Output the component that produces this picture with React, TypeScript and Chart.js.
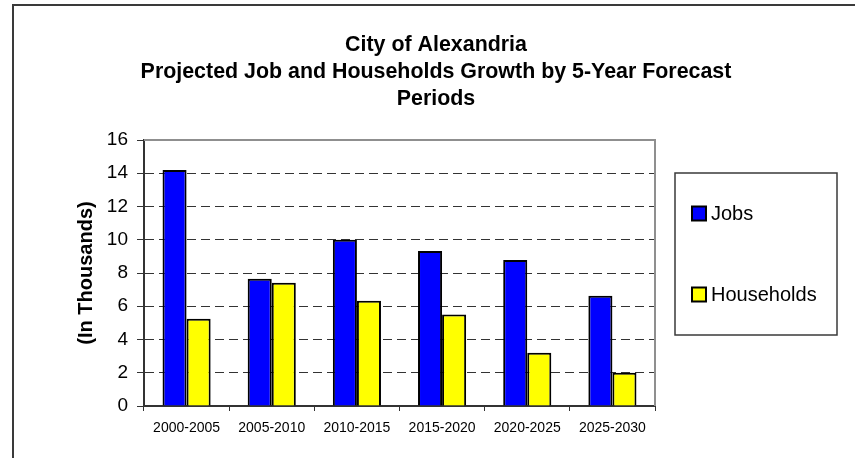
import React, { useEffect, useRef } from "react";
import { Chart, registerables } from "chart.js";

Chart.register(...registerables);

const categories = ["2000-2005", "2005-2010", "2010-2015", "2015-2020", "2020-2025", "2025-2030"];
const jobs = [14.2, 7.65, 10.0, 9.32, 8.78, 6.63];
const households = [5.25, 7.42, 6.33, 5.5, 3.2, 2.0];
const titleLines = [
  "City of Alexandria",
  "Projected Job and Households Growth by 5-Year Forecast",
  "Periods",
];
const yAxisTitle = "(In Thousands)";
const yMin = 0;
const yMax = 16;
const yStep = 2;

const FONT = "'Liberation Sans', Arial, Helvetica, sans-serif";

const framePlugin = {
  id: "frameAndLegend",
  beforeDraw(chart: any) {
    const ctx = chart.ctx;
    ctx.save();
    ctx.fillStyle = "#ffffff";
    ctx.fillRect(0, 0, chart.width, chart.height);
    ctx.restore();
  },
  afterDraw(chart: any) {
    const ctx = chart.ctx;
    const a = chart.chartArea;
    ctx.save();
    // outer frame (extends beyond the visible canvas on right/bottom)
    ctx.strokeStyle = "#3a3a3a";
    ctx.lineWidth = 2;
    ctx.strokeRect(13, 5, chart.width + 40, chart.height + 40);

    // plot area top and right border
    ctx.strokeStyle = "#8f8f8f";
    ctx.lineWidth = 2;
    ctx.beginPath();
    ctx.moveTo(a.left, a.top);
    ctx.lineTo(a.right, a.top);
    ctx.lineTo(a.right, a.bottom);
    ctx.stroke();

    // legend
    const lx = a.right + 20;
    const ly = 173;
    const lw = 162;
    const lh = 162;
    ctx.strokeStyle = "#3a3a3a";
    ctx.lineWidth = 1.5;
    ctx.strokeRect(lx, ly, lw, lh);
    ctx.font = `20px ${FONT}`;
    ctx.textBaseline = "middle";
    ctx.textAlign = "left";
    chart.data.datasets.forEach((ds: any, i: number) => {
      const cy = ly + 40.5 + i * 81;
      ctx.fillStyle = ds.backgroundColor;
      ctx.fillRect(lx + 17, cy - 7, 14, 14);
      ctx.strokeStyle = "#000";
      ctx.lineWidth = 2;
      ctx.strokeRect(lx + 17, cy - 7, 14, 14);
      ctx.fillStyle = "#000";
      ctx.fillText(ds.label, lx + 36, cy + 1);
    });
    ctx.restore();
  },
};

export default function App() {
  const ref = useRef<HTMLCanvasElement | null>(null);
  useEffect(() => {
    if (!ref.current) return;
    const chart = new Chart(ref.current, {
      type: "bar",
      data: {
        labels: categories,
        datasets: [
          {
            label: "Jobs",
            data: jobs,
            backgroundColor: "#0000ff",
            borderColor: "#000000",
            borderWidth: 2,
            barPercentage: 1,
            categoryPercentage: 0.565,
          },
          {
            label: "Households",
            data: households,
            backgroundColor: "#ffff00",
            borderColor: "#000000",
            borderWidth: 2,
            barPercentage: 1,
            categoryPercentage: 0.565,
          },
        ],
      },
      options: {
        animation: false,
        responsive: false,
        devicePixelRatio: 1,
        layout: { padding: { left: 17, right: 0, top: 0, bottom: 0 } },
        plugins: {
          legend: { display: false },
          tooltip: { enabled: false },
          title: {
            display: true,
            text: titleLines,
            color: "#000",
            font: { family: FONT, size: 21.4, weight: "bold", lineHeight: 27 / 21.4 },
            padding: { top: 32, bottom: 27 },
          },
        },
        scales: {
          x: {
            grid: {
              drawOnChartArea: false,
              drawTicks: true,
              tickLength: 5,
              tickColor: "#333",
              offset: true,
            },
            border: { color: "#333", width: 2 },
            ticks: {
              color: "#000",
              font: { family: FONT, size: 14 },
              padding: 9,
              maxRotation: 0,
              autoSkip: false,
            },
            afterFit: (s: any) => {
              s.height = 52;
            },
          },
          y: {
            min: yMin,
            max: yMax,
            grid: {
              color: "#333",
              lineWidth: 1,
              tickLength: 7,
              tickColor: "#333",
              tickBorderDash: [],
            },
            border: { color: "#333", width: 2, dash: [9, 5] },
            ticks: {
              stepSize: yStep,
              color: "#000",
              font: { family: FONT, size: 19 },
              padding: 9,
            },
            title: {
              display: true,
              text: yAxisTitle,
              color: "#000",
              font: { family: FONT, size: 20, weight: "bold" },
              padding: { top: 57, bottom: 0 },
            },
            afterFit: (s: any) => {
              s.width = 127;
            },
          },
          legendSpace: {
            type: "linear",
            position: "right",
            display: true,
            grid: { display: false, drawTicks: false },
            border: { display: false },
            ticks: { display: false },
            afterFit: (s: any) => {
              s.width = 200;
            },
          },
        },
      },
      plugins: [framePlugin],
    } as any);
    return () => chart.destroy();
  }, []);
  return (
    <div style={{ position: "fixed", left: 0, top: 0, width: 855, height: 458, background: "#fff" }}>
      <canvas ref={ref} width={855} height={458} style={{ width: 855, height: 458, display: "block" }} />
    </div>
  );
}
